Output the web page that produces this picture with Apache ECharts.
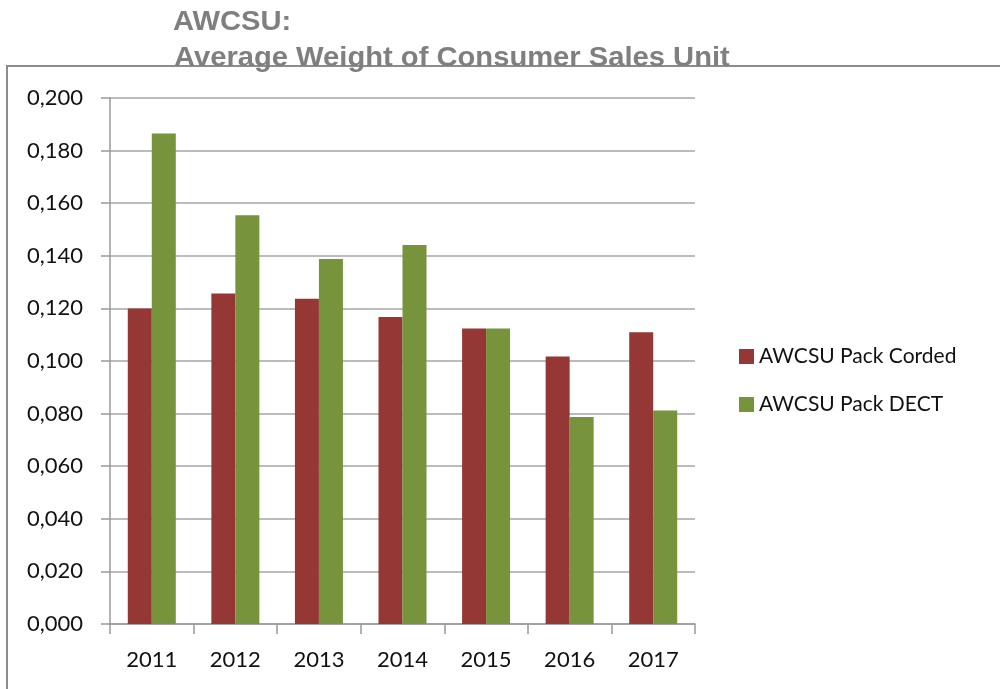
<!DOCTYPE html>
<html><head><meta charset="utf-8">
<script src="https://cdn.jsdelivr.net/npm/echarts@6/dist/echarts.min.js"></script>
<style>html,body{margin:0;padding:0;background:#fff}#c{width:1000px;height:689px}</style>
</head><body><div id="c"></div>
<script>
var categories = ['2011','2012','2013','2014','2015','2016','2017'];
var corded = [0.120, 0.1257, 0.1237, 0.1167, 0.1124, 0.1017, 0.1109];
var dect = [0.1865, 0.1554, 0.1388, 0.1441, 0.1124, 0.0787, 0.0812];
var seriesNames = ['AWCSU Pack Corded', 'AWCSU Pack DECT'];
var titleLines = ['AWCSU:', 'Average Weight of Consumer Sales Unit'];

var chart = echarts.init(document.getElementById('c'));
var font = 'Lato, "Open Sans", sans-serif';
var titleFont = 'bold 27px "Liberation Sans", Arial, sans-serif';
chart.setOption({
  animation: false,
  graphic: [
    {type: 'polyline', shape: {points: [[7, 689], [7, 66], [1000, 66]]},
     style: {stroke: '#8c8c8c', lineWidth: 2, fill: null}, z: -1},
    {type: 'text', x: 173, y: 9, scaleX: 1.08,
     style: {text: titleLines[0], font: titleFont, fill: '#7f7f7f'}},
    {type: 'text', x: 174, y: 45, scaleX: 1.08,
     style: {text: titleLines[1], font: titleFont, fill: '#7f7f7f'}}
  ],
  legend: {
    orient: 'vertical', left: 734, top: 341, itemWidth: 15, itemHeight: 15, itemGap: 27,
    icon: 'rect', textStyle: {fontFamily: font, fontSize: 21, color: '#111'},
    data: seriesNames
  },
  grid: {left: 110, right: 305, top: 98, bottom: 65, containLabel: false},
  xAxis: {
    type: 'category', data: categories,
    axisLine: {lineStyle: {color: '#999', width: 1.5}},
    axisTick: {show: true, length: 10, lineStyle: {color: '#999', width: 1.5}},
    axisLabel: {fontFamily: font, fontSize: 22, color: '#111', margin: 25}
  },
  yAxis: {
    type: 'value', min: 0, max: 0.2, interval: 0.02,
    axisLine: {show: true, lineStyle: {color: '#999', width: 1.5}},
    axisTick: {show: true, length: 9, lineStyle: {color: '#999', width: 1.5}},
    splitLine: {lineStyle: {color: '#a6a6a6', width: 1.5}},
    axisLabel: {fontFamily: font, fontSize: 22, color: '#111', margin: 27,
      formatter: function (v) { return v.toFixed(3).replace('.', ','); }}
  },
  series: [
    {name: seriesNames[0], type: 'bar', data: corded, barWidth: 24, barGap: '0%',
     itemStyle: {color: '#953735'}},
    {name: seriesNames[1], type: 'bar', data: dect, barWidth: 24, barGap: '0%',
     itemStyle: {color: '#77933C'}}
  ]
});
</script></body></html>
